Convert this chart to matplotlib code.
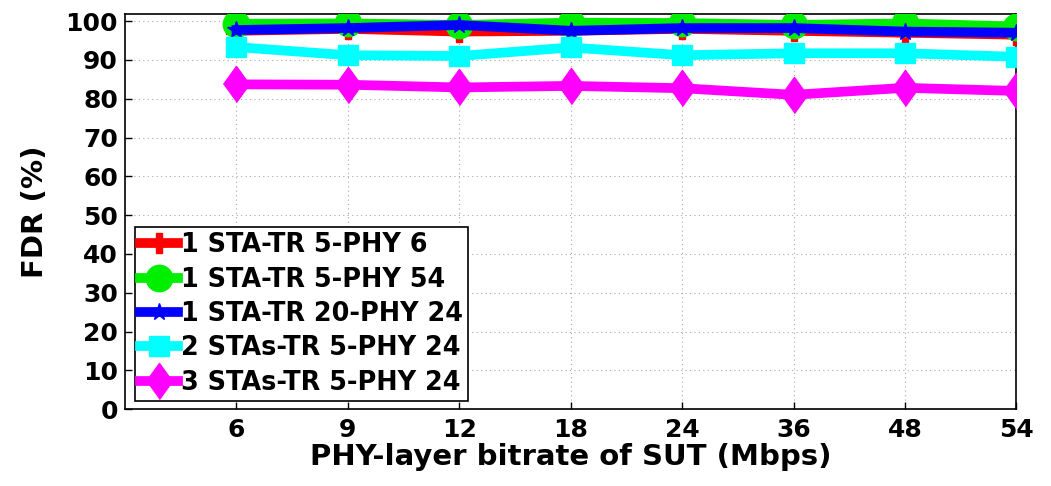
import numpy as np
import matplotlib
matplotlib.use("Agg")
import matplotlib.pyplot as plt

plt.rcParams['font.family'] = ['DejaVu Sans']
plt.rcParams['font.weight'] = 'bold'

# ── data ──
bitrates = ['6', '9', '12', '18', '24', '36', '48', '54']
labels = ['1 STA-TR 5-PHY 6', '1 STA-TR 5-PHY 54', '1 STA-TR 20-PHY 24',
          '2 STAs-TR 5-PHY 24', '3 STAs-TR 5-PHY 24']
fdr_sta1_phy6 = [97.5, 98.0, 97.3, 97.5, 98.0, 97.5, 97.0, 96.5]
fdr_sta1_phy54 = [99.3, 99.4, 99.0, 99.6, 99.5, 99.0, 99.4, 98.6]
fdr_sta1_w20 = [97.7, 98.2, 99.0, 97.5, 98.2, 98.2, 97.3, 97.0]
fdr_sta2 = [93.3, 91.2, 91.0, 93.2, 91.2, 91.7, 91.7, 90.8]
fdr_sta3 = [83.7, 83.6, 82.9, 83.3, 82.7, 81.0, 82.8, 82.0]

series = [fdr_sta1_phy6, fdr_sta1_phy54, fdr_sta1_w20, fdr_sta2, fdr_sta3]
colors = ['#ff0000', '#00ee00', '#0000ff', '#00ffff', '#ff00ff']
tall_diamond = [(-0.72, 0), (0, 1), (0.72, 0), (0, -1)]
markers = ['P', 'o', '*', 's', tall_diamond]
msizes = [14, 19, 13, 14, 26]

fig, ax = plt.subplots(figsize=(10.51, 4.86), dpi=100)
fig.subplots_adjust(left=0.119, right=0.967, top=0.971, bottom=0.158)

x = np.arange(1, len(bitrates) + 1)
for ys, c, m, ms, lab in zip(series, colors, markers, msizes, labels):
    ax.plot(x, ys, color=c, lw=7, marker=m, markersize=ms,
            markerfacecolor=c, markeredgecolor=c, label=lab, zorder=3)

ax.set_xlim(0, len(bitrates))
ax.set_ylim(0, 101.8)
ax.set_xticks(x)
ax.set_xticklabels(bitrates)
ax.set_yticks(np.arange(0, 101, 10))
ax.tick_params(direction='in', labelsize=18, length=5, width=1)
ax.tick_params(axis='x', pad=6)
ax.tick_params(axis='y', pad=5)
for t in ax.get_xticklabels() + ax.get_yticklabels():
    t.set_fontweight('bold')
ax.grid(True, color='#aaaaaa', linestyle=(0, (1, 3)), lw=0.8)
ax.set_axisbelow(True)
for s in ax.spines.values():
    s.set_linewidth(1.2)

ax.set_xlabel('PHY-layer bitrate of SUT (Mbps)', fontsize=21, fontweight='bold', labelpad=1)
ax.set_ylabel('FDR (%)', fontsize=21, fontweight='bold', labelpad=12)

leg = ax.legend(loc='lower left', bbox_to_anchor=(0.005, 0.008),
                prop={'weight': 'bold', 'size': 18.4}, handlelength=1.5,
                handletextpad=0.1, borderpad=0.2, labelspacing=0.33,
                borderaxespad=0.2, fancybox=False, edgecolor='black', framealpha=1)
leg.get_frame().set_linewidth(1.2)

fig.savefig('out.png', dpi=100)
